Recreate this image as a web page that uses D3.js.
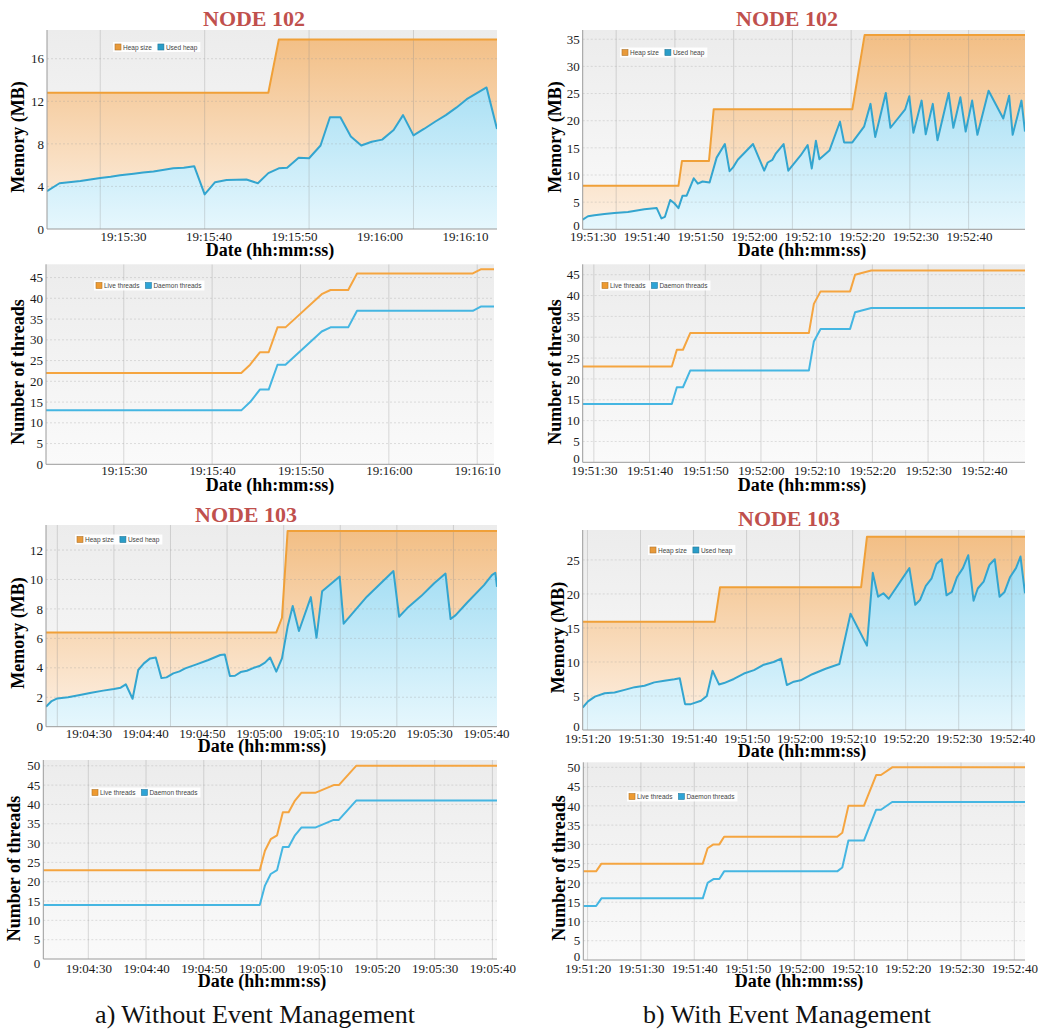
<!DOCTYPE html>
<html>
<head>
<meta charset="utf-8">
<script src="https://cdn.jsdelivr.net/npm/d3@7"></script>
<style>
  body { margin: 0; background: #fff; }
  text { font-family: "Liberation Serif", "Times New Roman", serif; }
</style>
</head>
<body>
<svg id="fig" width="1047" height="1030"></svg>
<script>
// ---------- data (times are seconds relative to each panel's base time) ----------

// a) without event management, NODE 102, memory
var a1Base = "19:15:30";
var a1UsedSec = [-5.1, -3.9, -1.9, 0, 1, 1.9, 3.2, 4.1, 5.1, 7.0, 8.0, 9.0, 10.0, 11.0, 12.1, 14.0, 15.1, 16.1, 17.1, 17.9,
  19.0, 20.0, 21.1, 22.0, 23.0, 24.0, 25.0, 26.0, 27.0, 28.1, 29.0, 30.0, 31.0, 32.1, 33.1, 34.1, 35.1, 37.0, 38.0];
var a1Used = [3.55, 4.3, 4.5, 4.8, 4.9, 5.05, 5.2, 5.3, 5.4, 5.7, 5.75, 5.9, 3.25, 4.4, 4.6, 4.65, 4.3, 5.25, 5.7, 5.75,
  6.7, 6.65, 7.85, 10.5, 10.5, 8.7, 7.85, 8.2, 8.4, 9.3, 10.7, 8.8, 9.4, 10.1, 10.7, 11.4, 12.2, 13.3, 9.4];
var a1HeapSec = [-5.1, 16.1, 17.1, 38.0];
var a1Heap = [12.8, 12.8, 17.8, 17.8];
var a1YTicks = [0, 4, 8, 12, 16];
var a1Labels = ["19:15:30", "19:15:40", "19:15:50", "19:16:00", "19:16:10"];

// a) NODE 102, threads
var a2Base = "19:15:30";
var a2Sec = [-8.8, 13.3, 14.3, 15.4, 16.4, 17.4, 18.3, 22.4, 23.4, 25.4, 26.4, 39.5, 40.4, 41.9];
var a2Live = [22, 22, 24, 27, 27, 33, 33, 41, 42, 42, 46, 46, 47, 47];
var a2Daemon = [13, 13, 15, 18, 18, 24, 24, 32, 33, 33, 37, 37, 38, 38];
var a2YTicks = [0, 5, 10, 15, 20, 25, 30, 35, 40, 45];
var a2Labels = ["19:15:30", "19:15:40", "19:15:50", "19:16:00", "19:16:10"];

// b) with event management, NODE 102, memory
var b1Base = "19:51:30";
var b1UsedSec = [-5.7, -4.8, -3.7, -2.0, -0.3, 2.0, 4.8, 6.9, 7.7, 8.3, 9.2, 9.9, 10.6, 11.3, 12.0, 13.2, 13.9, 14.7, 15.9, 17.1,
  18.5, 19.3, 19.9, 20.7, 23.3, 25.2, 25.8, 26.6, 27.2, 28.5, 29.3, 31.4, 32.6, 33.3, 34.0, 34.6, 36.3, 38.1, 38.8, 40.2,
  42.2, 43.3, 44.1, 45.9, 46.7, 49.2, 49.9, 50.6, 52.0, 52.7, 53.9, 54.7, 56.6, 57.4, 58.6, 59.5, 60.6, 61.5, 63.4, 65.9,
  66.9, 67.5, 69.0, 69.6];
var b1Used = [1.8, 2.4, 2.6, 2.8, 3.0, 3.2, 3.7, 3.9, 2.0, 2.3, 5.4, 4.8, 3.9, 6.2, 6.2, 9.4, 8.4, 8.8, 8.6, 13.2,
  15.7, 10.7, 11.4, 12.8, 15.7, 10.8, 12.3, 12.8, 14.0, 15.7, 10.8, 13.6, 15.5, 11.2, 16.3, 12.9, 14.5, 19.8, 16.0, 16.0,
  18.9, 23.1, 17.0, 25.1, 18.7, 22.1, 24.5, 17.8, 23.7, 17.5, 23.1, 16.4, 25.1, 18.7, 24.3, 18.0, 23.7, 17.4, 25.5, 20.4,
  24.6, 17.4, 23.7, 18.0];
var b1HeapSec = [-5.7, 10.6, 11.2, 15.8, 16.6, 40.2, 42.3, 69.6];
var b1Heap = [8, 8, 12.6, 12.6, 22.1, 22.1, 35.8, 35.8];
var b1YTicks = [0, 5, 10, 15, 20, 25, 30, 35];
var b1Labels = ["19:51:30", "19:51:40", "19:51:50", "19:52:00", "19:52:10", "19:52:20", "19:52:30", "19:52:40"];

// b) NODE 102, threads
var b2Base = "19:51:30";
var b2Sec = [-2.0, 14.0, 14.9, 16.0, 17.3, 38.6, 39.5, 40.7, 46.0, 46.9, 49.8, 77.4];
var b2Live = [23, 23, 27, 27, 31, 31, 38, 41, 41, 45, 46, 46];
var b2Daemon = [14, 14, 18, 18, 22, 22, 29, 32, 32, 36, 37, 37];
var b2YTicks = [0, 5, 10, 15, 20, 25, 30, 35, 40, 45];
var b2Labels = ["19:51:30", "19:51:40", "19:51:50", "19:52:00", "19:52:10", "19:52:20", "19:52:30", "19:52:40"];

// a) NODE 103, memory
var a3Base = "19:04:30";
var a3UsedSec = [-12.0, -11.0, -10.0, -8.1, -6.0, -4.0, -1.9, 0, 1.2, 2.1, 3.3, 4.3, 5.3, 6.4, 7.4, 8.4, 9.3, 10.5, 11.6, 12.6,
  14.6, 16.7, 18.8, 19.6, 20.5, 21.4, 22.4, 23.5, 24.7, 25.7, 26.7, 27.6, 28.7, 29.7, 30.7, 31.6, 32.7, 34.8, 35.8, 36.8,
  39.9, 40.6, 44.7, 49.4, 50.4, 51.8, 54.3, 56.6, 58.6, 59.5, 60.4, 62.4, 65.4, 66.8, 67.4, 67.7];
var a3Used = [1.36, 1.74, 1.92, 2.0, 2.15, 2.31, 2.45, 2.56, 2.65, 2.88, 1.9, 3.85, 4.3, 4.64, 4.7, 3.3, 3.35, 3.62, 3.76, 3.96,
  4.23, 4.53, 4.87, 4.91, 3.44, 3.46, 3.71, 3.8, 4.0, 4.12, 4.35, 4.7, 3.74, 4.64, 6.8, 8.2, 6.5, 8.8, 6.04, 9.2,
  10.2, 7.0, 8.83, 10.57, 7.47, 8.04, 8.87, 9.74, 10.4, 7.31, 7.58, 8.42, 9.62, 10.3, 10.46, 9.5];
var a3HeapSec = [-12.0, 28.7, 29.7, 30.7, 67.7];
var a3Heap = [6.4, 6.4, 7.4, 13.3, 13.3];
var a3YTicks = [0, 2, 4, 6, 8, 10, 12];
var a3Labels = ["19:04:30", "19:04:40", "19:04:50", "19:05:00", "19:05:10", "19:05:20", "19:05:30", "19:05:40"];

// a) NODE 103, threads
var a4Base = "19:04:30";
var a4Sec = [-7.8, 29.7, 30.6, 31.6, 32.7, 33.7, 34.7, 35.8, 36.9, 39.3, 42.5, 43.4, 46.4, 70.8];
var a4Live = [23, 23, 28, 31, 32, 38, 38, 41, 43, 43, 45, 45, 50, 50];
var a4Daemon = [14, 14, 19, 22, 23, 29, 29, 32, 34, 34, 36, 36, 41, 41];
var a4YTicks = [0, 5, 10, 15, 20, 25, 30, 35, 40, 45, 50];
var a4Labels = ["19:04:30", "19:04:40", "19:04:50", "19:05:00", "19:05:10", "19:05:20", "19:05:30", "19:05:40"];

// b) NODE 103, memory
var b3Base = "19:51:30";
var b3UsedSec = [-10.9, -9.9, -8.6, -6.75, -4.9, -3.0, -1.1, 0.75, 2.6, 4.5, 6.4, 7.4, 8.4, 9.5, 11.4, 12.5, 13.6, 14.8, 15.75, 17.6,
  19.5, 21.4, 23.25, 25.1, 26.5, 27.6, 28.9, 30.2, 32.4, 34.9, 37.5, 39.6, 42.7, 43.8, 44.8, 45.8, 46.8, 50.7, 51.8, 52.7,
  53.8, 54.9, 55.8, 56.8, 57.7, 58.7, 59.7, 60.8, 61.8, 62.8, 63.6, 64.7, 65.8, 66.8, 67.7, 68.65, 69.7, 70.8, 71.65, 72.5];
var b3Used = [3.3, 4.2, 4.9, 5.4, 5.5, 5.9, 6.3, 6.5, 7.0, 7.25, 7.45, 7.6, 3.8, 3.8, 4.3, 5.0, 8.7, 6.7, 6.9, 7.5,
  8.3, 8.8, 9.6, 10.0, 10.5, 6.6, 7.1, 7.3, 8.2, 9.0, 9.7, 17.1, 12.4, 23.1, 19.6, 20.1, 19.3, 23.8, 18.4, 19.1,
  21.2, 22.3, 24.4, 25.1, 19.8, 20.3, 22.5, 23.8, 25.7, 19.0, 20.8, 21.8, 24.3, 25.1, 19.6, 20.3, 22.5, 23.8, 25.5, 20.1];
var b3HeapSec = [-10.9, 14.0, 15.0, 41.6, 42.7, 72.5];
var b3Heap = [15.9, 15.9, 21.0, 21.0, 28.4, 28.4];
var b3YTicks = [0, 5, 10, 15, 20, 25];
var b3Labels = ["19:51:20", "19:51:30", "19:51:40", "19:51:50", "19:52:00", "19:52:10", "19:52:20", "19:52:30", "19:52:40"];

// b) NODE 103, threads
var b4Base = "19:51:30";
var b4Sec = [-10.8, -8.4, -7.4, 11.6, 12.5, 13.6, 14.7, 15.6, 36.8, 37.75, 38.9, 41.8, 44.1, 45.0, 47.1, 72.0];
var b4Live = [23, 23, 25, 25, 29, 30, 30, 32, 32, 33, 40, 40, 48, 48, 50, 50];
var b4Daemon = [14, 14, 16, 16, 20, 21, 21, 23, 23, 24, 31, 31, 39, 39, 41, 41];
var b4YTicks = [0, 5, 10, 15, 20, 25, 30, 35, 40, 45, 50];
var b4Labels = ["19:51:20", "19:51:30", "19:51:40", "19:51:50", "19:52:00", "19:52:10", "19:52:20", "19:52:30", "19:52:40"];

var captions = ["a) Without Event Management", "b) With Event Management"];

// ---------- layout ----------
var panels = [
  { kind: "memory", base: a1Base, usedSec: a1UsedSec, used: a1Used, heapSec: a1HeapSec, heap: a1Heap,
    ymax: 18.7, yTicks: a1YTicks, labels: a1Labels, labelRange: [123, 465],
    left: 47, right: 497, top: 30, bottom: 229, title: "NODE 102", titleX: 254, titleY: 26,
    yLabelX: 18, yLabelY: 137, xLabelX: 270, xLabelY: 256, tickY: 241, legendX: 113, legendY: 42, zeroShift: 0 },
  { kind: "threads", base: a2Base, sec: a2Sec, live: a2Live, daemon: a2Daemon,
    ymax: 48.2, yTicks: a2YTicks, labels: a2Labels,
    left: 46, right: 494, top: 264.3, bottom: 464.3,
    yLabelX: 18, yLabelY: 372, xLabelX: 270, xLabelY: 490.5, tickY: 475, legendX: 94, legendY: 280.5, zeroShift: 0 },
  { kind: "memory", base: b1Base, usedSec: b1UsedSec, used: b1Used, heapSec: b1HeapSec, heap: b1Heap,
    ymax: 36.7, yTicks: b1YTicks, labels: b1Labels, labelRange: [592.7, 969],
    left: 582.7, right: 1025, top: 30, bottom: 229.3, title: "NODE 102", titleX: 787, titleY: 26,
    yLabelX: 555, yLabelY: 137, xLabelX: 802, xLabelY: 256, tickY: 240.5, legendX: 620, legendY: 47.5, zeroShift: -4 },
  { kind: "threads", base: b2Base, sec: b2Sec, live: b2Live, daemon: b2Daemon,
    ymax: 47.5, yTicks: b2YTicks, labels: b2Labels,
    left: 582.7, right: 1025, top: 264.3, bottom: 462.3,
    yLabelX: 555, yLabelY: 372, xLabelX: 802, xLabelY: 490.5, tickY: 474.5, legendX: 600, legendY: 280.5, zeroShift: -4 },
  { kind: "memory", base: a3Base, usedSec: a3UsedSec, used: a3Used, heapSec: a3HeapSec, heap: a3Heap,
    ymax: 13.7, yTicks: a3YTicks, labels: a3Labels, labelRange: [88.3, 486],
    left: 46, right: 497, top: 525, bottom: 726.7, title: "NODE 103", titleX: 246, titleY: 521.7,
    yLabelX: 18, yLabelY: 633, xLabelX: 262, xLabelY: 752, tickY: 737.5, legendX: 75, legendY: 534.5, zeroShift: 0 },
  { kind: "threads", base: a4Base, sec: a4Sec, live: a4Live, daemon: a4Daemon,
    ymax: 51.5, yTicks: a4YTicks, labels: a4Labels,
    left: 43.3, right: 497, top: 760, bottom: 959,
    yLabelX: 13.5, yLabelY: 868.5, xLabelX: 262, xLabelY: 987, tickY: 972.5, legendX: 90, legendY: 787.5, zeroShift: 4 },
  { kind: "memory", base: b3Base, usedSec: b3UsedSec, used: b3Used, heapSec: b3HeapSec, heap: b3Heap,
    ymax: 29.4, yTicks: b3YTicks, labels: b3Labels,
    left: 582.7, right: 1025, top: 530, bottom: 730, title: "NODE 103", titleX: 789, titleY: 526,
    yLabelX: 557.5, yLabelY: 637.5, xLabelX: 802, xLabelY: 756.5, tickY: 742.5, legendX: 648, legendY: 545, zeroShift: -4 },
  { kind: "threads", base: b4Base, sec: b4Sec, live: b4Live, daemon: b4Daemon,
    ymax: 51.3, yTicks: b4YTicks, labels: b4Labels,
    left: 583.3, right: 1025, top: 762.3, bottom: 960,
    yLabelX: 558.5, yLabelY: 868, xLabelX: 799, xLabelY: 987, tickY: 972.5, legendX: 627, legendY: 791.5, zeroShift: -4 }
];

var svg = d3.select("#fig");
var parseTime = d3.timeParse("%H:%M:%S");
var fmt = d3.timeFormat("%H:%M:%S");
var serif = '"Liberation Serif", "Times New Roman", serif';

svg.append("rect").attr("width", 1047).attr("height", 1030).attr("fill", "#fff");

function drawPanel(p, idx) {
  var id = "p" + idx;
  var t0 = parseTime(p.base);
  var toDate = function(s) { return new Date(t0.getTime() + s * 1000); };
  var allSec = p.kind === "memory" ? p.usedSec : p.sec;

  var x = d3.scaleTime()
    .domain(d3.extent(allSec).map(toDate))
    .range([p.left, p.right]);
  var y = d3.scaleLinear()
    .domain([0, p.ymax])
    .range([p.bottom, p.top]);

  var defs = svg.append("defs");
  function grad(name, c0, c1) {
    var lg = defs.append("linearGradient").attr("id", id + name)
      .attr("gradientUnits", "userSpaceOnUse")
      .attr("x1", 0).attr("x2", 0).attr("y1", p.top).attr("y2", p.bottom);
    lg.append("stop").attr("offset", 0).attr("stop-color", c0);
    lg.append("stop").attr("offset", 1).attr("stop-color", c1);
  }
  grad("bg", "#ececec", "#fafafa");
  grad("heap", "#f2bd82", "#fdf1e5");
  grad("used", "#92d7f1", "#e6f7fd");
  defs.append("clipPath").attr("id", id + "clip").append("rect")
    .attr("x", p.left).attr("y", p.top)
    .attr("width", p.right - p.left).attr("height", p.bottom - p.top);

  var g = svg.append("g");

  // plot background
  g.append("rect")
    .attr("x", p.left).attr("y", p.top)
    .attr("width", p.right - p.left).attr("height", p.bottom - p.top)
    .attr("fill", "url(#" + id + "bg)");

  var plot = g.append("g").attr("clip-path", "url(#" + id + "clip)");

  var series;
  if (p.kind === "memory") {
    series = [
      { name: "Heap size", sec: p.heapSec, val: p.heap, line: "#f0a038", box: "#e89a3a", fill: "url(#" + id + "heap)" },
      { name: "Used heap", sec: p.usedSec, val: p.used, line: "#33a5cf", box: "#2a9dc8", fill: "url(#" + id + "used)" }
    ];
  } else {
    series = [
      { name: "Live threads", sec: p.sec, val: p.live, line: "#f5a540", box: "#ee9a30" },
      { name: "Daemon threads", sec: p.sec, val: p.daemon, line: "#45b6e2", box: "#2ea4d6" }
    ];
  }
  series.forEach(function(s) {
    s.points = s.sec.map(function(t, i) { return [toDate(t), s.val[i]]; });
  });

  var area = d3.area()
    .x(function(d) { return x(d[0]); })
    .y0(p.bottom)
    .y1(function(d) { return y(d[1]); });
  var line = d3.line()
    .x(function(d) { return x(d[0]); })
    .y(function(d) { return y(d[1]); });

  // filled areas (memory charts only)
  series.filter(function(s) { return s.fill; }).forEach(function(s) {
    plot.append("path").attr("d", area(s.points)).attr("fill", s.fill);
  });

  // grid
  plot.selectAll(".vgrid")
    .data(x.ticks(d3.timeSecond.every(10)))
    .enter().append("line")
    .attr("x1", function(d) { return x(d); }).attr("x2", function(d) { return x(d); })
    .attr("y1", p.top).attr("y2", p.bottom)
    .attr("stroke", "#8c8c8c").attr("stroke-opacity", 0.3).attr("stroke-width", 1);
  plot.selectAll(".hgrid")
    .data(p.yTicks.slice(1))
    .enter().append("line")
    .attr("x1", p.left).attr("x2", p.right)
    .attr("y1", function(d) { return y(d); }).attr("y2", function(d) { return y(d); })
    .attr("stroke", "#9a9a9a").attr("stroke-opacity", 0.3).attr("stroke-dasharray", "2,2");

  // lines
  series.forEach(function(s) {
    plot.append("path").attr("d", line(s.points))
      .attr("fill", "none").attr("stroke", s.line)
      .attr("stroke-width", 2).attr("stroke-linejoin", "round");
  });

  // axis lines
  g.append("line").attr("x1", p.left).attr("x2", p.left).attr("y1", p.top).attr("y2", p.bottom)
    .attr("stroke", "#9a9a9a");
  g.append("line").attr("x1", p.left).attr("x2", p.right).attr("y1", p.bottom).attr("y2", p.bottom)
    .attr("stroke", "#9a9a9a");

  // y axis labels
  var yAxis = g.append("g")
    .attr("transform", "translate(" + p.left + ",0)")
    .call(d3.axisLeft(y).tickValues(p.yTicks).tickSize(0).tickPadding(3).tickFormat(d3.format("d")));
  yAxis.select(".domain").remove();
  yAxis.selectAll("text")
    .style("font-family", serif)
    .style("font-size", "13px").attr("fill", "#1a1a1a");
  // the figure prints its "0" label slightly off the axis line
  yAxis.selectAll(".tick").filter(function(d) { return d === 0; })
    .select("text").attr("transform", "translate(0," + p.zeroShift + ")");

  // x axis labels (placed where the figure prints them)
  var xAxisGen;
  if (p.labelRange) {
    var lx = d3.scalePoint().domain(p.labels).range(p.labelRange);
    xAxisGen = d3.axisBottom(lx);
  } else {
    xAxisGen = d3.axisBottom(x).tickValues(p.labels.map(parseTime)).tickFormat(fmt);
  }
  var xAxis = g.append("g")
    .attr("transform", "translate(0," + p.tickY + ")")
    .call(xAxisGen.tickSize(0).tickPadding(0));
  xAxis.select(".domain").remove();
  xAxis.selectAll("text")
    .attr("y", 0).attr("dy", 0)
    .style("font-family", serif)
    .style("font-size", "13px").attr("fill", "#1a1a1a");

  // axis titles
  g.append("text")
    .attr("transform", "translate(" + p.yLabelX + "," + p.yLabelY + ") rotate(-90)")
    .attr("text-anchor", "middle").attr("dominant-baseline", "central")
    .attr("font-weight", "bold").attr("font-size", "18px").attr("fill", "#000")
    .text(p.kind === "memory" ? "Memory (MB)" : "Number of threads");
  g.append("text")
    .attr("x", p.xLabelX).attr("y", p.xLabelY)
    .attr("text-anchor", "middle")
    .attr("font-weight", "bold").attr("font-size", "18px").attr("fill", "#000")
    .text("Date (hh:mm:ss)");

  if (p.title) {
    g.append("text")
      .attr("x", p.titleX).attr("y", p.titleY)
      .attr("text-anchor", "middle")
      .attr("font-weight", "bold").attr("font-size", "21px").attr("fill", "#c0504d")
      .attr("textLength", 102).attr("lengthAdjust", "spacingAndGlyphs")
      .text(p.title);
  }

  // legend
  var lg = g.append("g").attr("transform", "translate(" + p.legendX + "," + p.legendY + ")");
  var bgRect = lg.append("rect").attr("y", 0).attr("height", 10).attr("fill", "#fff").attr("fill-opacity", 0.9);
  var cx = 2;
  series.forEach(function(s) {
    lg.append("rect").attr("x", cx).attr("y", 2).attr("width", 6).attr("height", 6)
      .attr("fill", s.box).attr("stroke", d3.color(s.box).darker(0.8)).attr("stroke-width", 0.6);
    var t = lg.append("text").attr("x", cx + 8).attr("y", 7.6)
      .style("font-family", '"Liberation Sans", Arial, sans-serif')
      .style("font-size", "6.5px").attr("fill", "#444").text(s.name);
    cx += 8 + t.node().getComputedTextLength() + 6;
  });
  bgRect.attr("width", cx - 3);
}

panels.forEach(drawPanel);

// captions
svg.selectAll(".caption")
  .data(captions)
  .enter().append("text")
  .attr("x", function(d, i) { return i === 0 ? 255 : 787; })
  .attr("y", 1023)
  .attr("text-anchor", "middle")
  .attr("font-size", "26px").attr("fill", "#111")
  .text(function(d) { return d; });
</script>
</body>
</html>
